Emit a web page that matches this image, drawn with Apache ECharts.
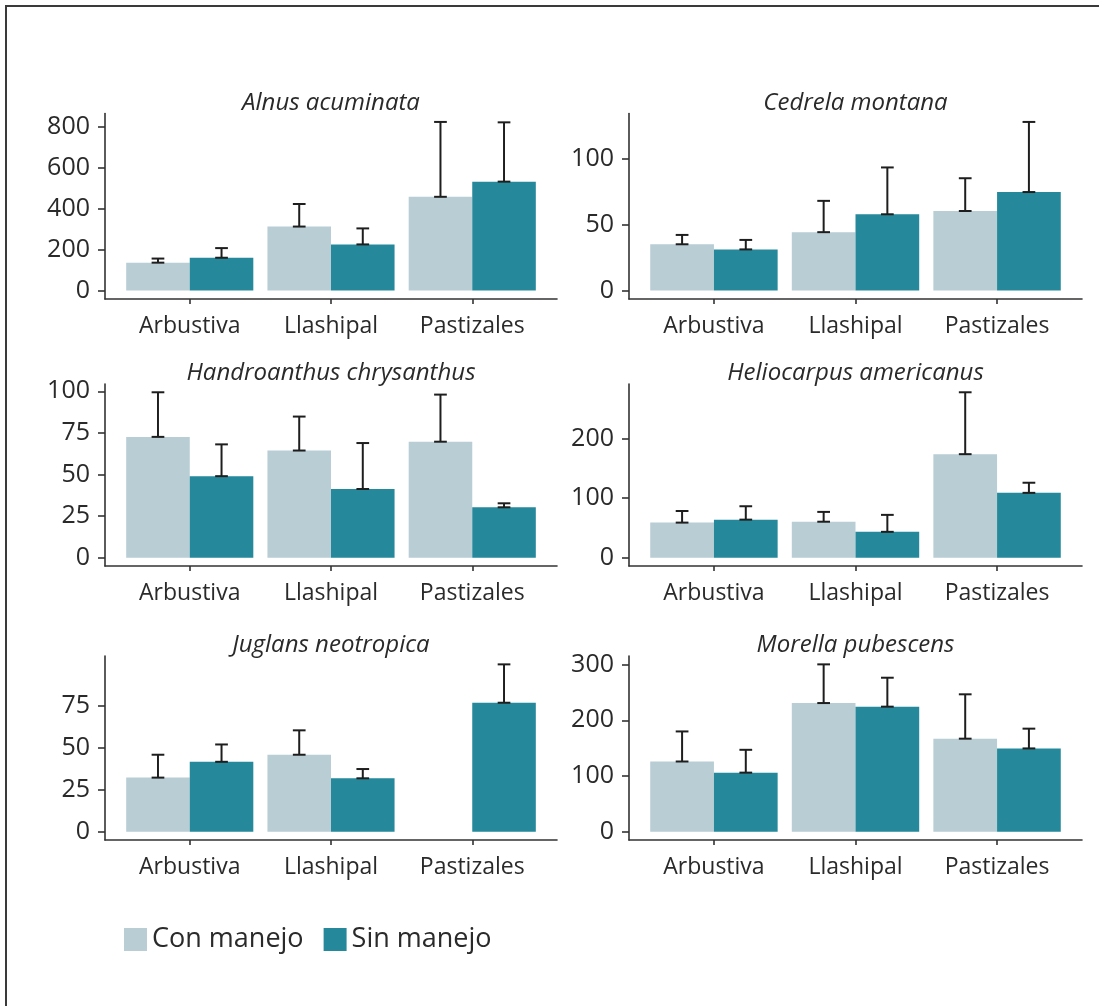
<!DOCTYPE html>
<html>
<head>
<meta charset="utf-8">
<script src="https://cdn.jsdelivr.net/npm/echarts@6/dist/echarts.min.js"></script>
<style>
  html, body { margin: 0; padding: 0; background: #fff; }
  #chart { width: 1099px; height: 1006px; }
</style>
</head>
<body>
<div id="chart"></div>
<script>
// Habitat categories on every panel's x axis
const categories = ['Arbustiva', 'Llashipal', 'Pastizales'];
const speciesNames = ['Alnus acuminata', 'Cedrela montana', 'Handroanthus chrysanthus',
                      'Heliocarpus americanus', 'Juglans neotropica', 'Morella pubescens'];
const groupNames = ['Con manejo', 'Sin manejo'];

// Means and mean + SE (upper end of the error bar) per habitat
const alnusCon = [136, 312, 457];
const alnusConUpper = [156, 422, 822];
const alnusSin = [160, 225, 531];
const alnusSinUpper = [207, 303, 820];

const cedrelaCon = [35.2, 44.4, 60.5];
const cedrelaConUpper = [42.3, 68.2, 85.4];
const cedrelaSin = [31.3, 58.0, 74.9];
const cedrelaSinUpper = [38.5, 93.6, 128.2];

const handroCon = [72.6, 64.4, 69.7];
const handroConUpper = [99.4, 84.8, 98.0];
const handroSin = [49.0, 41.3, 30.3];
const handroSinUpper = [68.1, 68.9, 32.7];

const helioCon = [59, 60.5, 174];
const helioConUpper = [78.5, 77, 278];
const helioSin = [64, 43.5, 109];
const helioSinUpper = [86.5, 72, 126];

const juglansCon = [32.1, 45.7, null];
const juglansConUpper = [45.7, 60.2, null];
const juglansSin = [41.5, 31.7, 76.6];
const juglansSinUpper = [51.8, 37.2, 99.4];

const morellaCon = [126, 231, 167];
const morellaConUpper = [180, 300.5, 246.7];
const morellaSin = [106, 224.5, 149.5];
const morellaSinUpper = [147, 276.5, 185];

// Y tick labels per panel
const alnusTicks = [0, 200, 400, 600, 800];
const cedrelaTicks = [0, 50, 100];
const handroTicks = [0, 25, 50, 75, 100];
const helioTicks = [0, 100, 200];
const juglansTicks = [0, 25, 50, 75];
const morellaTicks = [0, 100, 200, 300];

const panels = [
  { con: alnusCon, conUp: alnusConUpper, sin: alnusSin, sinUp: alnusSinUpper, ticks: alnusTicks },
  { con: cedrelaCon, conUp: cedrelaConUpper, sin: cedrelaSin, sinUp: cedrelaSinUpper, ticks: cedrelaTicks },
  { con: handroCon, conUp: handroConUpper, sin: handroSin, sinUp: handroSinUpper, ticks: handroTicks },
  { con: helioCon, conUp: helioConUpper, sin: helioSin, sinUp: helioSinUpper, ticks: helioTicks },
  { con: juglansCon, conUp: juglansConUpper, sin: juglansSin, sinUp: juglansSinUpper, ticks: juglansTicks },
  { con: morellaCon, conUp: morellaConUpper, sin: morellaSin, sinUp: morellaSinUpper, ticks: morellaTicks }
];

// Panel frames (pixels) for the 2 x 3 facet layout
const COL_LEFT = [105, 629];
const COL_WIDTH = [452, 453];
const ROW_TOP = [113.5, 384, 656];
const ROW_HEIGHT = [185.5, 182, 184];

const LIGHT = '#b9cdd5';
const TEAL = '#25899b';
const INK = '#2a2a2a';
const FONT = '"Open Sans", "Noto Sans", sans-serif';

const DODGE = 0.45;     // width of one bar in category units
const CAP = 0.045;      // half width of an error bar cap

function barRenderer(side) {
  return function (params, api) {
    const cat = api.value(0);
    const val = api.value(1);
    const x0 = side < 0 ? cat - DODGE : cat;
    const a = api.coord([x0, val]);
    const b = api.coord([x0 + DODGE, 0]);
    return {
      type: 'rect',
      shape: { x: a[0], y: a[1], width: b[0] - a[0], height: b[1] - a[1] },
      style: { fill: api.visual('color') }
    };
  };
}

function errRenderer(side) {
  return function (params, api) {
    const cx = api.value(0) + side * DODGE / 2;
    const lo = api.coord([cx, api.value(1)]);
    const hi = api.coord([cx, api.value(2)]);
    const left = api.coord([cx - CAP, 0])[0];
    const right = api.coord([cx + CAP, 0])[0];
    const st = { stroke: '#1e1e1e', lineWidth: 2 };
    return {
      type: 'group',
      children: [
        { type: 'line', shape: { x1: lo[0], y1: lo[1], x2: hi[0], y2: hi[1] }, style: st },
        { type: 'line', shape: { x1: left, y1: hi[1], x2: right, y2: hi[1] }, style: st },
        { type: 'line', shape: { x1: left, y1: lo[1], x2: right, y2: lo[1] }, style: st }
      ]
    };
  };
}

function pairs(vals) {
  return vals.map((v, i) => (v == null ? null : [i + 1, v])).filter(Boolean);
}
function triples(vals, ups) {
  return vals.map((v, i) => (v == null ? null : [i + 1, v, ups[i]])).filter(Boolean);
}

const grid = [], xAxis = [], yAxis = [], series = [], graphic = [];

panels.forEach((p, k) => {
  const col = k % 2, row = Math.floor(k / 2);
  grid.push({ left: COL_LEFT[col], top: ROW_TOP[row], width: COL_WIDTH[col], height: ROW_HEIGHT[row] });

  xAxis.push({
    type: 'value', gridIndex: k, min: 0.4, max: 3.6,
    splitLine: { show: false },
    axisLine: { show: true, onZero: false, lineStyle: { color: '#333', width: 1.6 } },
    axisTick: { show: true, length: 5, customValues: [1, 2, 3], lineStyle: { color: '#333', width: 1.6 } },
    axisLabel: {
      customValues: [1, 2, 3], margin: 16,
      formatter: v => categories[Math.round(v) - 1] || '',
      color: INK, fontSize: 23, fontFamily: FONT
    }
  });

  const top = Math.max(...p.conUp.filter(v => v != null), ...p.sinUp);
  const pad = top * 0.05;
  yAxis.push({
    type: 'value', gridIndex: k, min: -pad, max: top + pad,
    splitLine: { show: false },
    axisLine: { show: true, onZero: false, lineStyle: { color: '#333', width: 1.6 } },
    axisTick: { show: true, length: 7, customValues: p.ticks, lineStyle: { color: '#333', width: 1.6 } },
    axisLabel: {
      customValues: p.ticks, margin: 15,
      color: INK, fontSize: 25, fontFamily: FONT
    }
  });

  series.push({
    name: groupNames[0], type: 'custom', xAxisIndex: k, yAxisIndex: k,
    itemStyle: { color: LIGHT }, renderItem: barRenderer(-1), data: pairs(p.con), z: 2
  });
  series.push({
    name: groupNames[1], type: 'custom', xAxisIndex: k, yAxisIndex: k,
    itemStyle: { color: TEAL }, renderItem: barRenderer(1), data: pairs(p.sin), z: 2
  });
  series.push({
    name: 'SE ' + groupNames[0], type: 'custom', xAxisIndex: k, yAxisIndex: k,
    renderItem: errRenderer(-1), data: triples(p.con, p.conUp), z: 3
  });
  series.push({
    name: 'SE ' + groupNames[1], type: 'custom', xAxisIndex: k, yAxisIndex: k,
    renderItem: errRenderer(1), data: triples(p.sin, p.sinUp), z: 3
  });

  // facet strip title above each panel
  graphic.push({
    type: 'text',
    x: COL_LEFT[col] + COL_WIDTH[col] / 2,
    y: ROW_TOP[row] + 1.5,
    style: {
      text: speciesNames[k], align: 'center', verticalAlign: 'bottom',
      fontSize: 24, fontStyle: 'italic', fontFamily: FONT, fill: INK
    }
  });
});

// outer frame lines
graphic.push({ type: 'line', shape: { x1: 5, y1: 6, x2: 1099, y2: 6 }, style: { stroke: '#3a3a3a', lineWidth: 2 } });
graphic.push({ type: 'line', shape: { x1: 6, y1: 5, x2: 6, y2: 1006 }, style: { stroke: '#3a3a3a', lineWidth: 2 } });

const chart = echarts.init(document.getElementById('chart'), null, { renderer: 'canvas' });
chart.setOption({
  backgroundColor: '#ffffff',
  animation: false,
  grid, xAxis, yAxis, series, graphic,
  legend: {
    data: groupNames, left: 124, top: 926, icon: 'rect',
    itemWidth: 23, itemHeight: 23, itemGap: 20, padding: 0,
    textStyle: { color: INK, fontSize: 27, fontFamily: FONT }
  }
});
</script>
</body>
</html>
